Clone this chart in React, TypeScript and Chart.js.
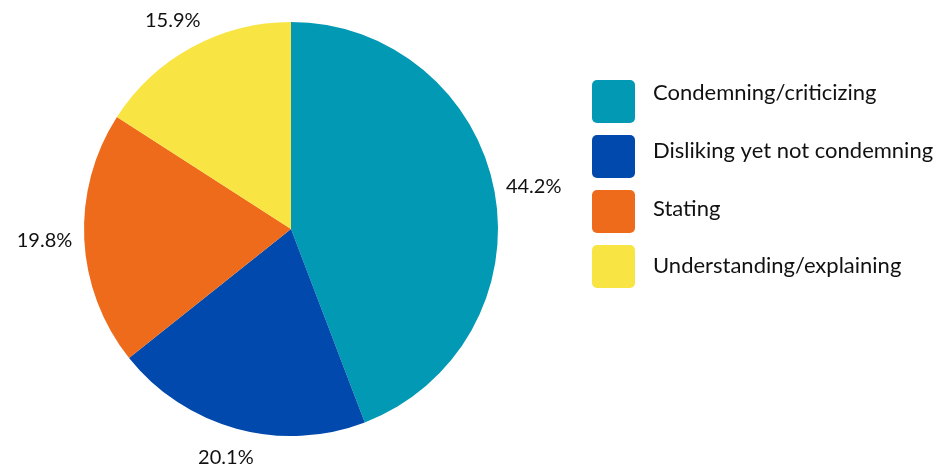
import React, { useEffect, useRef } from "react";
import { Chart, registerables } from "chart.js";

Chart.register(...registerables);

const categories = [
  "Condemning/criticizing",
  "Disliking yet not condemning",
  "Stating",
  "Understanding/explaining",
];
const shares = [44.2, 20.1, 19.8, 15.9];
const percentLabels = ["44.2%", "20.1%", "19.8%", "15.9%"];
const sliceColors = ["#0299B4", "#0149AC", "#EE6B1C", "#F8E543"];

const FONT = "Lato, 'Open Sans', sans-serif";
const TEXT_COLOR = "#111111";

const outsideLabels = {
  id: "outsideLabels",
  afterDatasetsDraw(chart: any) {
    const ctx = chart.ctx;
    const meta = chart.getDatasetMeta(0);
    ctx.save();
    ctx.font = `20px ${FONT}`;
    ctx.fillStyle = TEXT_COLOR;
    ctx.textAlign = "center";
    ctx.textBaseline = "middle";
    meta.data.forEach((arc: any, i: number) => {
      const { x, y, startAngle, endAngle, outerRadius } = arc.getProps(
        ["x", "y", "startAngle", "endAngle", "outerRadius"],
        true
      );
      const mid = (startAngle + endAngle) / 2;
      const dx = Math.cos(mid);
      const dy = Math.sin(mid);
      const text = percentLabels[i];
      const w = ctx.measureText(text).width;
      const h = 36;
      const gap = 12;
      const cx = x + dx * (outerRadius + gap) + dx * (w / 2);
      const cy = y + dy * (outerRadius + gap) + dy * (h / 2);
      ctx.fillText(text, cx, cy);
    });
    ctx.restore();
  },
};

const sideLegend = {
  id: "sideLegend",
  afterDraw(chart: any) {
    const ctx = chart.ctx;
    const left = 592;
    const top = 80;
    const size = 43;
    const step = 55;
    const textX = 653;
    const textTop = 93;
    const textStep = 57.8;
    ctx.save();
    ctx.font = `22px ${FONT}`;
    ctx.textAlign = "left";
    ctx.textBaseline = "middle";
    categories.forEach((label, i) => {
      const y0 = top + i * step;
      ctx.fillStyle = sliceColors[i];
      ctx.beginPath();
      (ctx as any).roundRect(left, y0, size, size, 5);
      ctx.fill();
      ctx.fillStyle = TEXT_COLOR;
      ctx.fillText(label, textX, textTop + i * textStep);
    });
    ctx.restore();
  },
};

export default function App() {
  const canvasRef = useRef<HTMLCanvasElement | null>(null);

  useEffect(() => {
    if (!canvasRef.current) return;
    const chart = new Chart(canvasRef.current, {
      type: "pie",
      data: {
        labels: categories,
        datasets: [
          {
            data: shares,
            backgroundColor: sliceColors,
            borderWidth: 0,
          },
        ],
      },
      options: {
        responsive: false,
        animation: false,
        layout: { padding: { left: 84, top: 22, right: 440, bottom: 33 } },
        plugins: {
          legend: { display: false },
          tooltip: { enabled: false },
        },
      },
      plugins: [outsideLabels, sideLegend],
    });
    return () => chart.destroy();
  }, []);

  return (
    <div style={{ position: "fixed", left: 0, top: 0, width: 938, height: 469, background: "#fff" }}>
      <canvas ref={canvasRef} width={938} height={469} />
    </div>
  );
}
